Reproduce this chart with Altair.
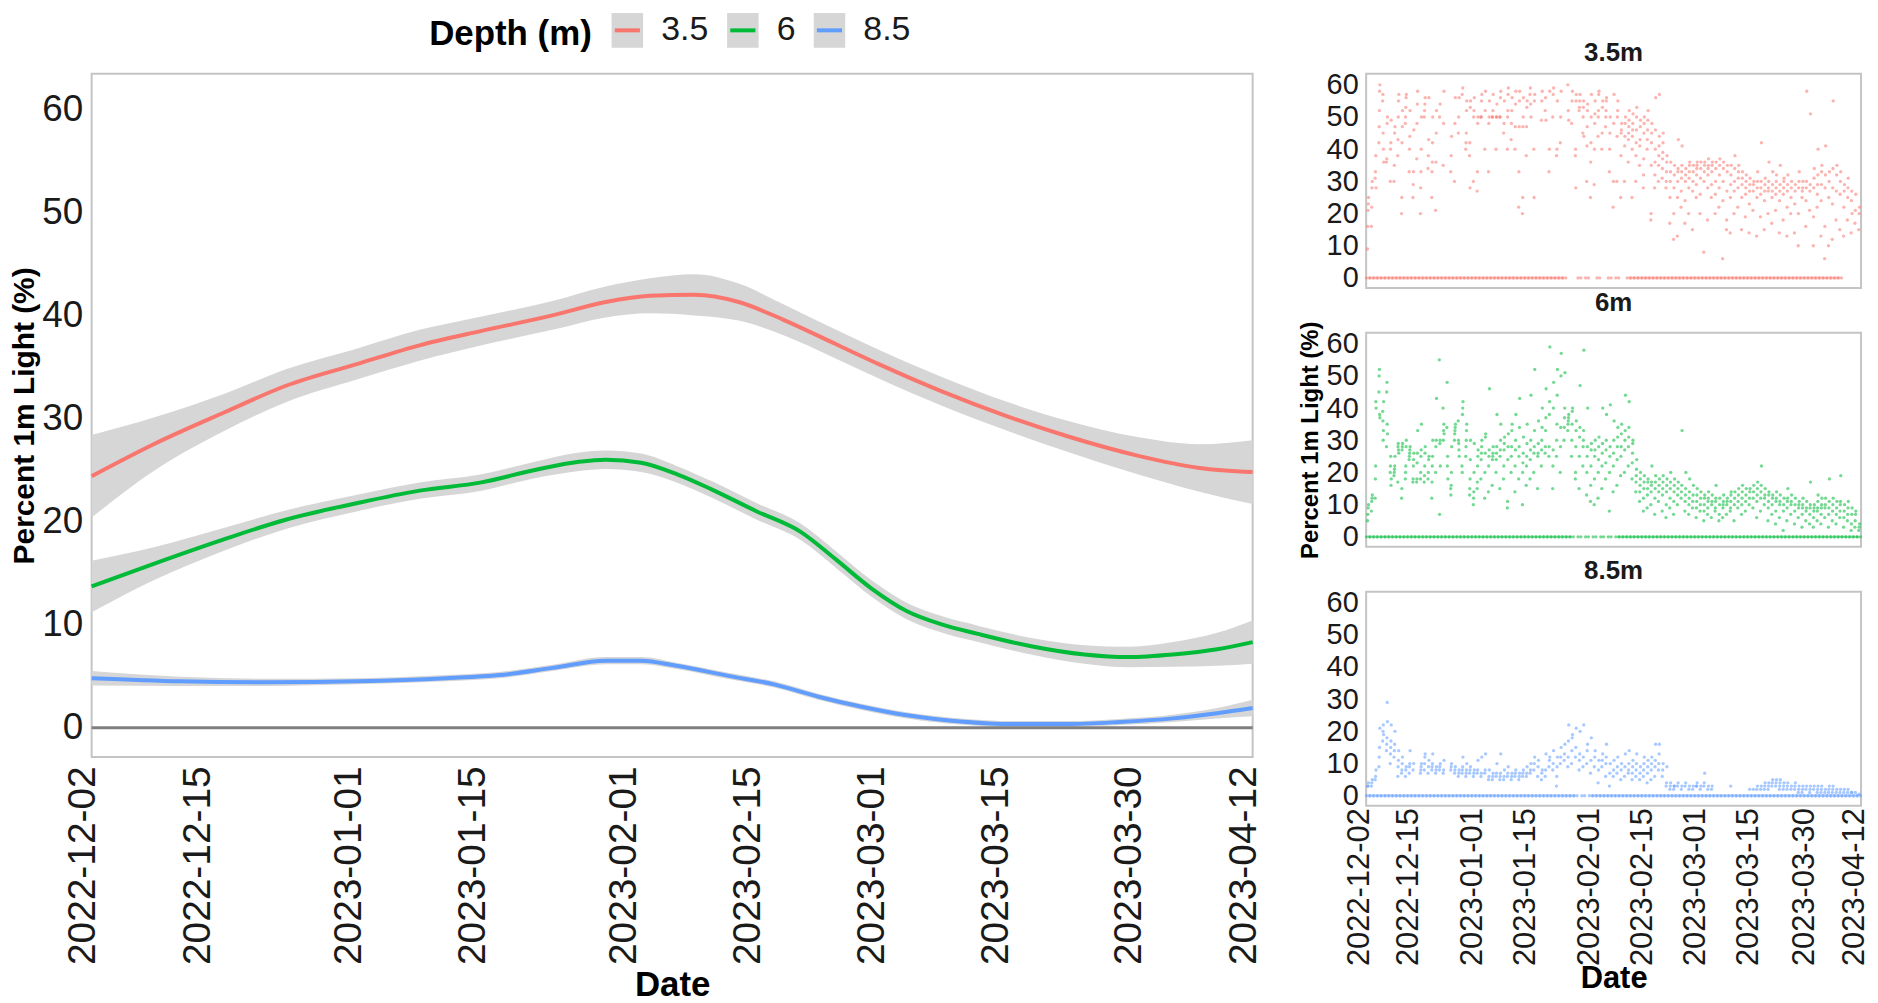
import altair as alt
import pandas as pd
from datetime import datetime, timedelta

START = datetime(2022, 12, 2)

DEPTHS = ["3.5", "6", "8.5"]
COLORS = ["#F8766D", "#00BA38", "#619CFF"]
PANEL_TITLES = ["3.5m", "6m", "8.5m"]
TICK_DATES = [(2022, 12, 2), (2022, 12, 15), (2023, 1, 1), (2023, 1, 15), (2023, 2, 1),
              (2023, 2, 15), (2023, 3, 1), (2023, 3, 15), (2023, 3, 30), (2023, 4, 12)]
Y_TICKS = [0, 10, 20, 30, 40, 50, 60]

# ---- smoothed fits (day offset from 2022-12-02, fitted value, CI half-width) ----
FIT_DAYS_35 = [0, 7, 15, 22, 30, 37, 44, 52, 58, 63, 68, 73, 78, 84, 89, 96, 103, 110, 118, 125, 131]
FIT_35 = [24.4, 27.5, 30.6, 33.2, 35.3, 37.1, 38.5, 40.0, 41.3, 41.9, 42.0, 41.3, 39.6, 37.2, 35.2, 32.6, 30.3, 28.3, 26.4, 25.2, 24.8]
HALF_35 = [4.0, 2.6, 1.8, 1.6, 1.5, 1.5, 1.4, 1.4, 1.5, 1.7, 2.0, 1.8, 1.5, 1.4, 1.4, 1.4, 1.4, 1.5, 1.8, 2.3, 3.1]

FIT_DAYS_6 = [0, 7, 15, 22, 30, 37, 44, 50, 55, 58, 62, 66, 70, 75, 80, 84, 88, 92, 96, 100, 106, 112, 117, 122, 127, 131]
FIT_6 = [13.7, 15.9, 18.3, 20.2, 21.8, 23.0, 23.8, 25.0, 25.8, 26.0, 25.7, 24.6, 23.1, 21.0, 19.0, 16.3, 13.5, 11.3, 10.0, 9.1, 7.9, 7.1, 6.85, 7.1, 7.6, 8.3]
HALF_6 = [2.5, 1.6, 1.1, 0.9, 0.8, 0.8, 0.8, 0.8, 0.9, 0.9, 0.9, 0.8, 0.8, 0.8, 0.8, 0.8, 0.8, 0.8, 0.8, 0.8, 0.8, 0.9, 1.0, 1.2, 1.6, 2.1]

FIT_DAYS_85 = [0, 10, 20, 30, 40, 46, 52, 58, 62, 66, 72, 77, 82, 87, 92, 98, 104, 110, 116, 122, 127, 131]
FIT_85 = [4.8, 4.5, 4.4, 4.5, 4.8, 5.1, 5.8, 6.5, 6.5, 6.0, 5.0, 4.2, 3.0, 2.0, 1.2, 0.6, 0.35, 0.35, 0.55, 0.9, 1.4, 1.9]
HALF_85 = [0.7, 0.45, 0.35, 0.3, 0.3, 0.3, 0.3, 0.35, 0.35, 0.3, 0.3, 0.3, 0.3, 0.3, 0.3, 0.3, 0.3, 0.3, 0.3, 0.35, 0.5, 0.8]

# ---- raw daytime readings (day offset: values) ----
OBS_35 = {
    0: [9, 16, 21, 23, 25], 1: [16, 22, 28, 30], 2: [31, 33, 38, 28], 3: [42, 47, 52, 58, 60],
    4: [55, 57, 45, 40, 36], 5: [36, 37, 48, 50], 6: [30, 40, 42, 49], 7: [30, 35, 45, 47],
    8: [38, 43, 50, 55, 57], 9: [20, 25, 42, 47, 52], 10: [48, 50, 53, 56, 57], 11: [33, 40, 44, 52],
    12: [25, 29, 33, 46], 13: [37, 48, 54, 58], 14: [20, 28, 33, 40, 50], 15: [50, 52, 54, 56],
    16: [34, 38, 43, 56], 17: [25, 33, 36, 42, 50], 18: [21, 36, 45, 52], 19: [50, 54],
    20: [35, 48, 58], 22: [33, 38, 44], 23: [30, 48, 56], 24: [45, 50, 56], 25: [57, 59],
    26: [40, 42, 45, 52, 55], 27: [38, 42, 28, 53, 55], 28: [30, 50, 52, 56], 29: [27, 33, 48, 50],
    30: [50, 50, 55, 57], 31: [40, 52, 58], 32: [33, 48, 50, 55], 33: [50, 50, 52, 57],
    34: [40, 50, 50, 54], 35: [50, 50, 56, 58], 36: [45, 48, 55], 37: [40, 50, 52, 57, 59],
    38: [43, 48, 52, 56], 39: [40, 47, 54, 58], 40: [22, 33, 47, 55, 58], 41: [20, 25, 47, 50, 56],
    42: [38, 47, 53, 55], 43: [57, 59, 54, 50], 44: [40, 25, 55, 57], 46: [49, 55, 58],
    47: [52, 56, 49], 48: [33, 40, 58], 49: [50, 57, 59], 50: [38, 40, 55], 51: [42, 50, 58],
    53: [60, 52, 49], 54: [48, 55, 58], 55: [38, 40, 28, 55, 57], 56: [52, 53, 55, 57],
    57: [45, 50, 53, 55, 44], 58: [30, 41, 47, 52, 54], 59: [25, 36, 42, 50, 57], 60: [29, 40, 48, 51, 55],
    61: [44, 50, 52, 57, 58], 62: [40, 45, 53, 55], 63: [47, 50, 52, 55, 56], 64: [33, 40, 45, 50],
    65: [22, 30, 48, 57], 66: [30, 44, 50, 52, 55], 67: [25, 38, 45, 46, 48], 68: [30, 41, 44, 48, 50],
    69: [36, 43, 45, 47, 49, 52], 70: [25, 40, 44, 46, 48, 51], 71: [30, 38, 42, 46, 50, 53],
    72: [35, 41, 43, 47, 49], 73: [28, 32, 37, 45, 48, 50], 74: [40, 43, 46, 49, 52],
    75: [18, 20, 35, 42, 45, 48], 76: [28, 32, 36, 40, 46, 56], 77: [30, 35, 38, 41, 44, 57],
    78: [31, 34, 37, 39, 42, 45], 79: [28, 30, 33, 36, 38], 80: [17, 25, 30, 33, 36],
    81: [12, 20, 28, 32, 35], 82: [13, 25, 30, 33, 34, 43], 83: [22, 27, 31, 33, 35, 41],
    84: [17, 24, 30, 32, 34], 85: [20, 28, 31, 33, 35, 36], 86: [15, 27, 30, 33, 35],
    87: [25, 29, 32, 34, 35, 36], 88: [20, 26, 31, 34, 36], 89: [8, 30, 33, 35, 36],
    90: [18, 28, 32, 34, 35, 37], 91: [25, 29, 33, 35, 36], 92: [20, 26, 30, 34, 36],
    93: [22, 28, 32, 35, 37], 94: [6, 24, 30, 34, 36], 95: [15, 18, 27, 33, 35],
    96: [14, 25, 29, 32, 35], 97: [20, 27, 30, 34, 38], 98: [22, 28, 31, 33, 35],
    99: [15, 25, 29, 31, 33], 100: [19, 26, 28, 30, 32], 101: [14, 23, 27, 29, 31],
    102: [21, 27, 29, 30], 103: [13, 25, 28, 30, 33], 104: [19, 26, 28, 30, 42],
    105: [15, 24, 27, 29, 31], 106: [20, 27, 28, 30, 36], 107: [17, 25, 27, 29, 33],
    108: [21, 26, 28, 30, 32], 109: [14, 24, 27, 29, 35], 110: [18, 26, 28, 30, 31],
    111: [13, 22, 27, 29, 32], 112: [20, 25, 28, 30], 113: [14, 23, 27, 29], 114: [10, 20, 28, 30, 33],
    115: [25, 27, 28, 30], 116: [16, 24, 28, 30, 58], 117: [21, 27, 29, 51], 118: [10, 19, 28, 31, 34],
    119: [22, 26, 29, 32, 40], 120: [13, 24, 29, 33, 35], 121: [6, 16, 28, 32, 41], 122: [10, 25, 30, 33],
    123: [12, 23, 28, 34, 55], 124: [18, 27, 32, 35], 125: [15, 26, 30, 33], 126: [13, 22, 27, 29],
    127: [18, 25, 28, 31], 128: [14, 24, 27, 20], 129: [17, 21, 26], 130: [15, 20, 22],
}
OBS_6 = {
    0: [5, 7, 9, 10], 1: [8, 11, 12, 13], 2: [12, 18, 22, 42, 40], 3: [45, 50, 52, 38, 37],
    4: [39, 36, 30, 33, 42], 5: [28, 45, 48, 35, 32], 6: [20, 22, 25, 16, 18], 7: [19, 20, 21, 22, 25],
    8: [17, 28, 29, 27, 26], 9: [12, 15, 27, 28, 29], 10: [18, 20, 22, 28, 30], 11: [24, 25, 26, 27, 28],
    12: [17, 18, 22, 24, 26], 13: [17, 18, 23, 26, 33], 14: [18, 20, 25, 27, 35], 15: [17, 19, 22, 26, 28],
    16: [18, 20, 24, 25], 17: [12, 17, 22, 25, 30], 18: [20, 28, 30, 43], 19: [55, 7, 29, 30, 22],
    20: [40, 30, 33, 35, 32], 21: [34, 48, 22, 25, 18], 22: [15, 13, 16, 20, 28], 23: [30, 32, 33, 34, 35],
    24: [36, 30, 29, 27, 25], 25: [22, 20, 38, 40, 42], 26: [25, 28, 30, 33, 35], 27: [13, 15, 18, 24, 30],
    28: [10, 12, 14, 20, 29], 29: [15, 17, 22, 25, 27], 30: [18, 24, 26, 28, 30], 31: [12, 20, 26, 31, 32],
    32: [14, 22, 25, 27, 46], 33: [16, 24, 25, 26, 28], 34: [20, 24, 26, 28, 38], 35: [15, 25, 27, 30, 35],
    36: [18, 22, 27, 29, 31], 37: [9, 11, 24, 28, 32], 38: [20, 25, 28, 33, 35], 39: [14, 22, 27, 30, 38],
    40: [18, 25, 28, 34, 43], 41: [10, 20, 23, 26, 31], 42: [16, 22, 25, 29, 35], 43: [18, 24, 27, 30, 44],
    44: [20, 26, 28, 33, 52], 45: [15, 25, 26, 29, 36], 46: [22, 27, 30, 34, 40], 47: [26, 28, 33, 37, 46],
    48: [25, 28, 38, 42, 59], 49: [15, 22, 27, 40, 48], 50: [25, 30, 35, 44, 52], 51: [20, 28, 34, 50, 57],
    52: [30, 34, 37, 40, 51], 53: [33, 35, 36, 37, 38], 54: [25, 30, 35, 39, 40], 55: [18, 20, 28, 33, 36],
    56: [15, 25, 31, 34, 47], 57: [22, 28, 30, 33, 58], 58: [13, 20, 25, 28, 40], 59: [11, 16, 22, 27, 29],
    60: [10, 18, 25, 27, 30], 61: [12, 20, 24, 28, 31], 62: [15, 22, 26, 29, 40], 63: [18, 23, 27, 30, 38],
    64: [8, 20, 25, 28, 41], 65: [14, 22, 26, 30, 36], 66: [16, 24, 28, 31, 34], 67: [19, 25, 28, 32, 35],
    68: [20, 27, 30, 33, 44], 69: [22, 28, 31, 34, 42], 70: [18, 23, 26, 29, 30], 71: [14, 17, 19, 21, 24],
    72: [11, 14, 16, 18, 20], 73: [8, 12, 15, 17, 19], 74: [9, 13, 15, 17, 18], 75: [10, 14, 16, 17, 22],
    76: [7, 12, 15, 17, 19], 77: [11, 14, 16, 18], 78: [8, 13, 15, 17, 19], 79: [6, 10, 14, 16, 18],
    80: [9, 12, 15, 17, 20], 81: [7, 11, 14, 16, 18], 82: [10, 13, 15, 17], 83: [12, 14, 16, 33],
    84: [8, 11, 13, 15, 20], 85: [7, 10, 12, 14, 18], 86: [9, 11, 13, 16], 87: [6, 9, 11, 13, 15],
    88: [8, 10, 12, 14], 89: [5, 8, 10, 12, 13], 90: [7, 9, 11, 12, 14], 91: [6, 10, 11, 13],
    92: [8, 9, 11, 12, 16], 93: [5, 7, 10, 12], 94: [6, 9, 10, 11, 13], 95: [7, 10, 11, 12],
    96: [8, 9, 11, 13, 14], 97: [5, 10, 12, 14], 98: [9, 11, 13, 15], 99: [7, 10, 12, 14, 16],
    100: [8, 11, 13, 15], 101: [10, 12, 14, 15], 102: [9, 12, 14, 16], 103: [6, 11, 13, 15, 17],
    104: [8, 12, 14, 16, 22], 105: [10, 12, 13, 15], 106: [5, 9, 11, 13, 14], 107: [7, 10, 12, 13],
    108: [4, 8, 11, 12, 14], 109: [6, 10, 11, 13], 110: [2, 8, 10, 12], 111: [5, 9, 11, 12, 15],
    112: [7, 10, 11, 13], 113: [4, 8, 10, 12], 114: [6, 9, 10, 11], 115: [3, 7, 9, 10, 12],
    116: [5, 8, 9, 11], 117: [4, 7, 9, 10, 17], 118: [3, 6, 8, 9, 10], 119: [5, 8, 9, 11, 13],
    120: [4, 7, 9, 10, 12], 121: [6, 9, 10, 12], 122: [3, 7, 9, 11, 18], 123: [5, 8, 10, 12],
    124: [4, 7, 9, 11], 125: [6, 8, 10, 11, 19], 126: [3, 6, 8, 10], 127: [5, 7, 9, 11],
    128: [2, 4, 7, 9], 129: [3, 5, 7, 8], 130: [2, 3, 4],
}
OBS_85 = {
    0: [3, 3, 4], 1: [3, 4, 5], 2: [5, 6, 8], 3: [9, 12, 15, 21], 4: [17, 20, 22, 19],
    5: [14, 16, 18, 29, 23], 6: [10, 13, 15, 17, 22], 7: [12, 14, 16, 20], 8: [6, 9, 11, 14],
    9: [7, 8, 10, 12], 10: [6, 8, 9], 11: [7, 9, 10, 14], 12: [8, 10], 14: [7, 8, 9, 10],
    15: [8, 10, 12, 13], 16: [7, 9, 11], 17: [8, 9, 10, 13], 18: [7, 8, 9], 19: [8, 9, 10],
    20: [7, 8, 11], 22: [8, 9, 10], 23: [7, 8, 9], 24: [6, 7, 8], 25: [7, 8, 9, 12],
    26: [6, 7, 8, 10], 27: [7, 8, 9], 28: [6, 7, 8], 29: [7, 8, 11], 30: [6, 7, 12],
    31: [7, 8, 13], 32: [5, 6, 8], 33: [5, 6, 7], 34: [6, 7, 10], 35: [5, 6, 7, 13],
    36: [5, 6, 8], 37: [6, 7, 9], 38: [5, 6, 7], 39: [6, 7, 8], 40: [5, 6, 7], 41: [6, 7, 8],
    42: [6, 7, 9], 43: [7, 8, 10], 44: [8, 10, 12], 45: [6, 9, 11], 46: [5, 7, 8], 47: [6, 8, 13],
    48: [9, 11, 12], 49: [8, 10, 14], 50: [3, 6, 9, 12], 51: [10, 12, 15], 52: [11, 13, 16],
    53: [9, 12, 17, 22], 54: [10, 14, 18, 19], 55: [12, 15, 21], 56: [8, 11, 13, 20], 57: [9, 12, 22],
    58: [10, 14, 16], 59: [7, 11, 18], 60: [9, 12, 14], 61: [4, 8, 11], 62: [9, 11, 13],
    63: [6, 10, 12, 16], 64: [3, 7, 10], 65: [6, 8, 11], 66: [7, 9, 12], 67: [5, 8, 10],
    68: [6, 9, 13], 69: [7, 8, 10, 14], 70: [5, 7, 9, 11], 71: [6, 8, 10, 13], 72: [5, 7, 9],
    73: [6, 8, 10, 12], 74: [4, 7, 9, 11], 75: [5, 8, 10, 12], 76: [6, 9, 11, 16], 77: [8, 10, 13, 16],
    78: [6, 8, 10], 79: [3, 4, 9], 80: [2, 3, 4], 81: [2, 3, 3], 82: [3, 4], 83: [2, 3], 84: [3, 4],
    85: [2, 3], 86: [2, 3], 87: [3, 3, 4], 88: [2, 3], 89: [3, 4, 7], 90: [2, 3], 91: [2, 3],
    96: [3], 101: [2], 102: [2], 103: [2, 3], 104: [2, 3], 105: [2, 3, 4], 106: [2, 3, 4],
    107: [3, 4, 5], 108: [3, 4, 5], 109: [2, 3, 4, 5], 110: [2, 3, 4], 111: [2, 3, 4], 112: [2, 3],
    113: [2, 3, 4], 114: [1, 2, 3], 115: [1, 2, 3], 116: [2, 3], 117: [1, 2, 3], 118: [2, 3],
    119: [1, 2, 3], 120: [1, 2, 3], 121: [1, 2], 122: [1, 2, 3], 123: [1, 2, 3], 124: [1, 2],
    125: [1, 2], 126: [1, 2], 127: [1, 2], 128: [1, 1], 129: [1], 130: [0.5],
}
# night-time zero readings: runs of days (first, last)
ZERO_RUNS_35 = [(0, 51), (52, 52), (56, 56), (58, 58), (61, 61), (64, 64), (66, 66), (69, 125)]
ZERO_RUNS_6 = [(0, 54), (56, 56), (58, 58), (60, 60), (62, 62), (64, 64), (66, 130)]
ZERO_RUNS_85 = [(0, 55), (57, 57), (59, 130)]


def iso(day):
    return (START + timedelta(days=day)).strftime("%Y-%m-%dT%H:%M:%SZ")


def dt(y, m, d):
    return alt.DateTime(year=y, month=m, date=d, utc=True)


# ---- tables ----
fit_rows = []
for dep, days, fit, half in [("3.5", FIT_DAYS_35, FIT_35, HALF_35),
                             ("6", FIT_DAYS_6, FIT_6, HALF_6),
                             ("8.5", FIT_DAYS_85, FIT_85, HALF_85)]:
    for d, f, h in zip(days, fit, half):
        fit_rows.append({"t": iso(d), "fit": f, "lo": f - h, "hi": f + h, "depth": dep})
fit_df = pd.DataFrame(fit_rows)


def obs_table(obs, zero_runs):
    rows = []
    for d, vals in obs.items():
        n = len(vals)
        for i, v in enumerate(vals):
            rows.append({"t": iso(d + (8 + 8 * (i + 0.5) / n) / 24), "v": v})
    for a, b in zero_runs:
        for d in range(a, b + 1):
            for hr in (2, 20):
                rows.append({"t": iso(d + hr / 24), "v": 0})
    return pd.DataFrame(rows)


obs_dfs = [obs_table(OBS_35, ZERO_RUNS_35), obs_table(OBS_6, ZERO_RUNS_6), obs_table(OBS_85, ZERO_RUNS_85)]

FONT = "Liberation Sans"
TXT = "#1a1a1a"
GREY = "#D6D6D6"

x_scale = alt.Scale(type="utc", domain=[dt(2022, 12, 2), dt(2023, 4, 12)], nice=False)
tick_vals = [dt(*d) for d in TICK_DATES]

main_x_axis = alt.Axis(values=tick_vals, format="%Y-%m-%d", labelAngle=270, labelAlign="right",
                       labelBaseline="middle", labelFontSize=39, labelPadding=9, labelOverlap=False,
                       labelFlush=False, labelLimit=0, labelOffset=-9, title="Date", titleFontSize=35,
                       titleFontWeight="bold", titlePadding=12, domain=False, ticks=False, grid=False,
                       labelColor=TXT)
main_y_scale = alt.Scale(domain=[-2.84, 63.44], nice=False, zero=False)
main_y_axis = alt.Axis(values=Y_TICKS, labelFontSize=37, labelPadding=9, title="Percent 1m Light (%)",
                       titleFontSize=30, titleFontWeight="bold", titlePadding=2, domain=False,
                       ticks=False, grid=False, labelColor=TXT)

# legend key: grey box with a coloured bar through its middle (stroke dashed so only the bar shows)
KEY_PATH = "M-0.8,0H1V1.1H-1V-1.1H1V0Z"
legend_props = dict(orient="none", legendX=339, legendY=-62, direction="horizontal",
                    title="Depth (m)", titleOrient="left", titleFontSize=35, titleFontWeight="bold",
                    titleColor="black", titlePadding=17, labelFontSize=34, labelOffset=16,
                    columnPadding=10, symbolSize=1000, symbolType=KEY_PATH, symbolStrokeWidth=4,
                    symbolDash=[25.3, 3000], symbolOpacity=1, labelColor=TXT)

band = alt.Chart(fit_df).mark_area(interpolate="monotone").encode(
    x=alt.X("t:T", scale=x_scale, axis=main_x_axis),
    y=alt.Y("lo:Q", scale=main_y_scale, axis=main_y_axis),
    y2="hi:Q",
    fill=alt.Fill("depth:N", scale=alt.Scale(domain=DEPTHS, range=[GREY, GREY, GREY]),
                  legend=alt.Legend(**legend_props)),
)

zero_line = alt.Chart(pd.DataFrame({"y": [0]})).mark_rule(color="#7F7F7F", strokeWidth=3).encode(
    y=alt.Y("y:Q", scale=main_y_scale))

lines = alt.Chart(fit_df).mark_line(interpolate="monotone", strokeWidth=4).encode(
    x=alt.X("t:T", scale=x_scale),
    y=alt.Y("fit:Q", scale=main_y_scale),
    stroke=alt.Stroke("depth:N", scale=alt.Scale(domain=DEPTHS, range=COLORS),
                      legend=alt.Legend(**legend_props)),
)

main = alt.layer(band, zero_line, lines).properties(width=1166, height=686)

small_y_scale = alt.Scale(domain=[-3.1, 63.4], nice=False, zero=False)


def panel(k, show_x, show_ytitle):
    if show_x:
        xax = alt.Axis(values=tick_vals, format="%Y-%m-%d", labelAngle=270, labelAlign="right",
                       labelBaseline="middle", labelFontSize=31, labelPadding=2, labelOverlap=False,
                       labelFlush=False, labelLimit=0, labelOffset=-7, title="Date", titleFontSize=31,
                       titleFontWeight="bold", titlePadding=-2, domain=False, ticks=False, grid=False,
                       labelColor=TXT)
    else:
        xax = None
    yax = alt.Axis(values=Y_TICKS, labelFontSize=29, labelPadding=8,
                   title="Percent 1m Light (%)" if show_ytitle else None,
                   titleFontSize=24, titleFontWeight="bold", titlePadding=4,
                   domain=False, ticks=False, grid=False, labelColor=TXT)
    return alt.Chart(obs_dfs[k]).mark_circle(size=11, opacity=0.55, color=COLORS[k]).encode(
        x=alt.X("t:T", scale=x_scale, axis=xax),
        y=alt.Y("v:Q", scale=small_y_scale, axis=yax),
    ).properties(width=497, height=215,
                 title=alt.TitleParams(PANEL_TITLES[k], fontSize=26, fontWeight="bold",
                                       anchor="middle", offset=5, color=TXT, frame="group"))


right = alt.vconcat(panel(0, False, False), panel(1, False, True), panel(2, True, False),
                    spacing=45, bounds="flush").resolve_scale(x="independent", y="independent")

chart = alt.hconcat(main, right, spacing=114, bounds="flush").resolve_scale(
    x="independent", y="independent"
).properties(
    padding={"left": 0, "top": 2, "right": 0, "bottom": 0}
).configure(font=FONT).configure_view(stroke="#C4C4C4", strokeWidth=2)

chart.save("out.html", embed_options={"renderer": "svg", "actions": False})
